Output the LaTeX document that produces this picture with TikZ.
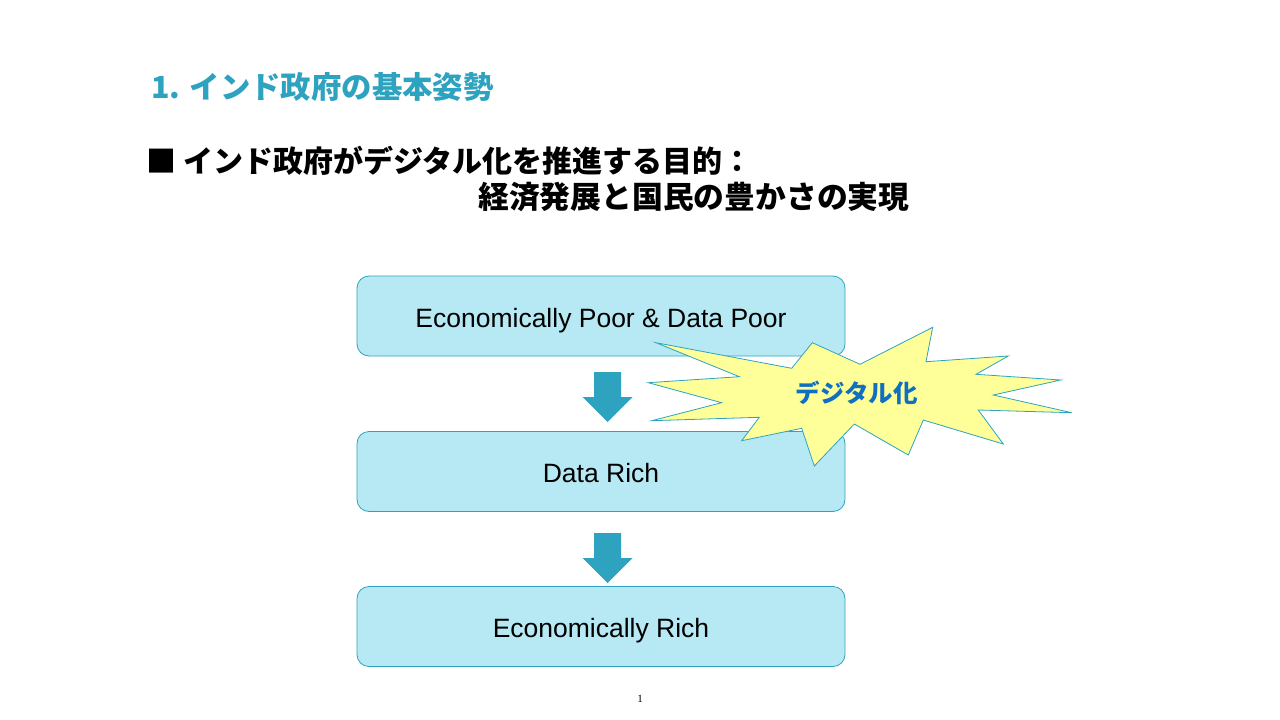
\documentclass[tikz,border=0pt]{standalone}
\usepackage{fontspec}
\setmainfont{Liberation Sans}
\newfontfamily\jp{Noto Sans CJK JP}
\newfontfamily\pagefont{Liberation Serif}

\definecolor{teal}{RGB}{46,163,192}
\definecolor{boxfill}{RGB}{182,233,244}
\definecolor{burstfill}{RGB}{255,255,153}
\definecolor{burstblue}{RGB}{16,112,192}

\tikzset{
  stage/.style={draw=teal, line width=0.8pt, fill=boxfill, rounded corners=12pt,
    minimum width=488pt, minimum height=80pt, inner sep=0pt,
    text height=22pt, text depth=0pt,
    font=\fontsize{26.5}{30}\selectfont},
  burst/.style={draw=teal, line width=0.8pt, fill=burstfill, line join=miter},
  pics/downarrow/.style={code={
    \fill[teal] (-13.5,0) -- (13.5,0) -- (13.5,25) -- (25,25) -- (0,50)
      -- (-25,25) -- (-13.5,25) -- cycle;}}
}

\begin{document}
\begin{tikzpicture}[x=1pt,y=-1pt]
\useasboundingbox[fill=white] (0,0) rectangle (1280,720);

% headings
\node[anchor=west, text=teal, font=\jp\bfseries\fontsize{30.4}{35}\selectfont, inner sep=0pt]
  (title) at (151,87) {1. インド政府の基本姿勢};
\node[anchor=west, font=\jp\bfseries\fontsize{30}{36}\selectfont, inner sep=0pt]
  (aim) at (146,161) {■ インド政府がデジタル化を推進する目的：};
\node[anchor=west, font=\jp\bfseries\fontsize{30.8}{36}\selectfont, inner sep=0pt]
  (goal) at (478,197) {経済発展と国民の豊かさの実現};

% the three stages
\node[stage] (poor) at (601,316) {Economically Poor \& Data Poor};
\node[stage] (data) at (601,471.5) {Data Rich};
\node[stage] (rich) at (601,626.5) {Economically Rich};

% block arrows between stages
\pic (arrowA) at (607.5,372) {downarrow};
\pic (arrowB) at (607.5,533) {downarrow};

% digitalisation burst
\draw[burst] (656,342.7) -- (791.7,368.3) -- (812.3,342.7) -- (860,364.3)
  -- (932.7,327.3) -- (926,361.7) -- (1008.3,356) -- (976,374.3)
  -- (1060.7,380) -- (993.3,395) -- (1071.7,412.7) -- (978.3,410)
  -- (1003.3,444) -- (923.3,420) -- (908.3,455) -- (854.3,424)
  -- (814.3,466) -- (801.7,428.3) -- (741.7,440.7) -- (759.3,417.3)
  -- (651.7,420.7) -- (721.7,402.7) -- (648.3,382.7) -- (739.3,376.7) -- cycle;
\node[text=burstblue, font=\jp\bfseries\fontsize{24.5}{28}\selectfont]
  (digital) at (856.5,393) {デジタル化};

% page number
\node[font=\pagefont\fontsize{11}{13}\selectfont] (page) at (640,699) {1};
\end{tikzpicture}
\end{document}
